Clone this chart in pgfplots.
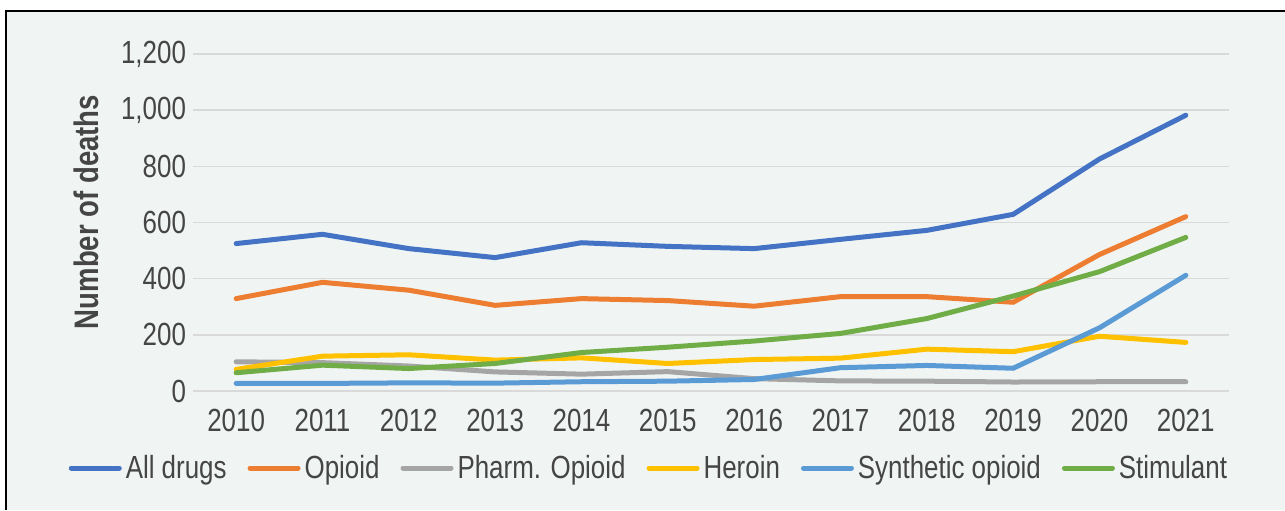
\documentclass[border=0pt]{standalone}
\usepackage{pgfplots}
\pgfplotsset{compat=1.18}
\usepackage{fontspec}
\setmainfont{Liberation Sans}[FakeStretch=0.81]
\definecolor{bgc}{HTML}{F0F5F3}
\definecolor{txt}{HTML}{454545}
\definecolor{gridc}{HTML}{D9D9D9}
\definecolor{cAll}{HTML}{4472C4}
\definecolor{cOpi}{HTML}{ED7D31}
\definecolor{cPha}{HTML}{A5A5A5}
\definecolor{cHer}{HTML}{FFC000}
\definecolor{cSyn}{HTML}{5B9BD5}
\definecolor{cSti}{HTML}{70AD47}
\begin{document}
\begin{tikzpicture}
\useasboundingbox (0,0) rectangle (642.5pt,255pt);
\fill[white] (0,0) rectangle (642.5pt,255pt);
\fill[bgc] (3pt,0) rectangle (642.5pt,249.5pt);
\draw[black, line width=1.25pt] (3pt,0) -- (3pt,249.5pt) -- (642.5pt,249.5pt);
\begin{axis}[
  at={(96.5pt,59.5pt)}, anchor=south west,
  scale only axis, width=518pt, height=168.5pt,
  xmin=2009.5, xmax=2021.5, ymin=0, ymax=1200,
  xtick={2010,...,2021}, ytick={0,200,...,1200},
  axis line style={draw=none}, major tick length=0pt,
  ymajorgrids, grid style={gridc, line width=0.75pt},
  clip=false,
  /pgf/number format/assume math mode=true,
  x tick label style={/pgf/number format/1000 sep={}, font=\fontsize{16}{19}\selectfont, text=txt, anchor=center, yshift=-14.5pt},
  y tick label style={/pgf/number format/1000 sep={,}, font=\fontsize{16}{19}\selectfont, text=txt},
  ylabel={Number of deaths},
  ylabel style={at={(axis description cs:-0.103,0.531)}, anchor=center, font=\bfseries\fontsize{17}{20}\selectfont, text=txt},
  every axis plot/.append style={line width=2.5pt, line join=round, line cap=round},
  legend columns=6,
  legend style={at={(axis description cs:0.441,-0.2285)}, anchor=center, draw=none, fill=none,
    font=\fontsize{16}{19}\selectfont, text=txt,
    nodes={inner xsep=2pt, inner ysep=1pt},
    /tikz/every even column/.append style={column sep=8.5pt}},
  legend image code/.code={\draw[#1, line cap=round] (0pt,0pt) -- (24pt,0pt);},
]
\addplot[cAll] coordinates {(2010,525) (2011,558) (2012,507) (2013,475) (2014,528) (2015,515) (2016,507) (2017,540) (2018,572) (2019,629) (2020,826) (2021,982)};
\addlegendentry{All drugs}
\addplot[cOpi] coordinates {(2010,329) (2011,387) (2012,359) (2013,305) (2014,329) (2015,322) (2016,302) (2017,336) (2018,336) (2019,316) (2020,486) (2021,621)};
\addlegendentry{Opioid}
\addplot[cPha] coordinates {(2010,104) (2011,101) (2012,89) (2013,68) (2014,60) (2015,69) (2016,44) (2017,36) (2018,35) (2019,32) (2020,33) (2021,33)};
\addlegendentry{Pharm. Opioid}
\addplot[cHer] coordinates {(2010,77) (2011,124) (2012,129) (2013,110) (2014,118) (2015,98) (2016,112) (2017,117) (2018,149) (2019,140) (2020,195) (2021,173)};
\addlegendentry{Heroin}
\addplot[cSyn] coordinates {(2010,27) (2011,27) (2012,29) (2013,28) (2014,33) (2015,35) (2016,41) (2017,83) (2018,91) (2019,81) (2020,225) (2021,412)};
\addlegendentry{Synthetic opioid}
\addplot[cSti] coordinates {(2010,65) (2011,92) (2012,80) (2013,98) (2014,137) (2015,156) (2016,178) (2017,205) (2018,258) (2019,338) (2020,425) (2021,547)};
\addlegendentry{Stimulant}
\end{axis}
\end{tikzpicture}
\end{document}
